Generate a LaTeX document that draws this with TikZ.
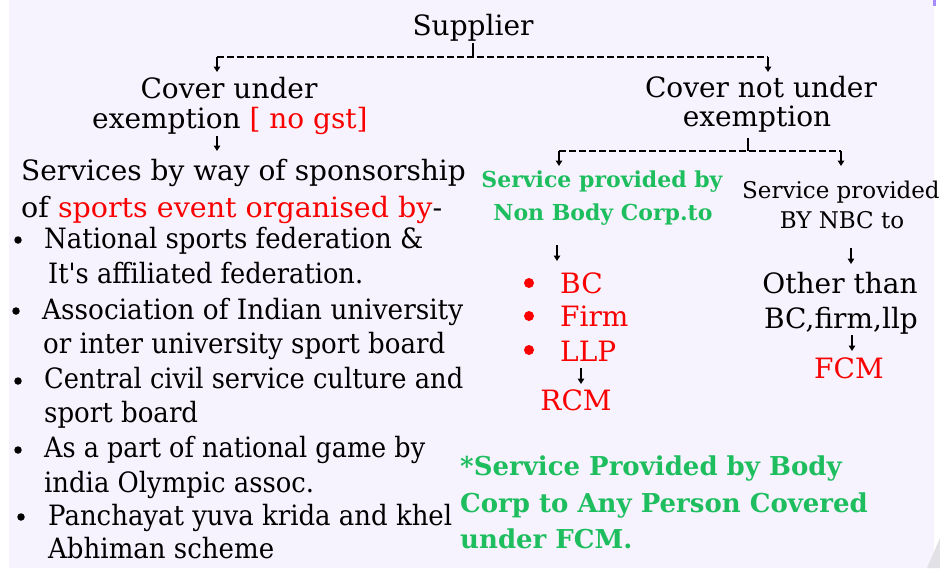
\documentclass[tikz,border=0pt]{standalone}
\usepackage{fontspec}
\usepackage{graphicx}
\setmainfont{DejaVu Serif}
\newfontfamily\plainserif{DejaVu Serif}[Ligatures=ResetAll]
\usetikzlibrary{arrows.meta}
\definecolor{bg}{RGB}{246,243,254}
\definecolor{myred}{RGB}{250,0,0}
\definecolor{mygreen}{RGB}{30,190,95}
\definecolor{edgepurple}{RGB}{167,139,250}
\definecolor{edgegrey}{RGB}{225,225,230}
\newcommand\fitw[2]{\resizebox{#1}{\height}{#2}}
\tikzset{
  txt/.style={anchor=base,inner sep=0pt,font=\fontsize{28}{30}\selectfont},
  txtw/.style={anchor=base west,inner sep=0pt,font=\fontsize{28}{30}\selectfont},
  smalltxt/.style={inner sep=0pt,font=\fontsize{23}{25}\selectfont},
  grn/.style={anchor=base,inner sep=0pt,font=\fontsize{22}{24}\selectfont\bfseries,text=mygreen},
  grnbig/.style={anchor=base west,inner sep=0pt,font=\fontsize{26}{28}\selectfont\bfseries,text=mygreen},
  arr/.style={line width=1.5pt,-{Triangle[length=5.5pt,width=6.5pt]}},
  dashline/.style={line width=1.3pt,dash pattern=on 7pt off 3pt},
  ticklinestyle/.style={line width=1.3pt},
  dotblack/.style={circle,fill=black,inner sep=0pt,minimum size=7.5pt},
  dotred/.style={circle,fill=myred,inner sep=0pt,minimum size=10pt}
}
\begin{document}
\begin{tikzpicture}[x=1pt,y=-1pt]
\useasboundingbox (0,0) rectangle (940,568);
\fill[white] (0,0) rectangle (940,568);
\fill[bg] (9,0) rectangle (934,568);
\fill[edgepurple] (933,0) rectangle (936,6);
\fill[edgegrey] (927,568) -- (940,538) -- (940,568) -- cycle;

% top level
\node[txt] (sup) at (473,35) {Supplier};
\coordinate (t1) at (473,57);
\coordinate (dl) at (217,57);
\coordinate (dr) at (768,57);
\coordinate (dlt) at (217,72);
\coordinate (drt) at (768,72);
\draw[ticklinestyle] (sup.base) ++(0,8) -- (t1);
\draw[dashline] (dl) -- (dr);
\draw[arr] (dl) -- (dlt);
\draw[arr] (dr) -- (drt);

% left branch
\node[txt] (cu1) at (229,98) {Cover under};
\node[txtw] (cu2) at (92,128) {exemption \textcolor{myred}{[ no gst]}};
\coordinate (a1s) at (217,136);
\coordinate (a1e) at (217,151);
\draw[arr] (a1s) -- (a1e);
\node[txtw] (sv1) at (21,180) {Services by way of sponsorship};
\node[txtw] (sv2) at (21,217) {\fitw{421pt}{of \textcolor{myred}{sports event organised by}-}};

\node[dotblack] (b1) at (18,240) {};
\node[txtw] (i1a) at (44,248) {\fitw{379pt}{National sports federation \&}};
\node[txtw] (i1b) at (48,283) {\fitw{315pt}{It{\plainserif\char"27}s affiliated federation.}};
\node[dotblack] (b2) at (16,311) {};
\node[txtw] (i2a) at (42,319) {\fitw{421pt}{Association of Indian university}};
\node[txtw] (i2b) at (43,353) {\fitw{402pt}{or inter university sport board}};
\node[dotblack] (b3) at (18,381) {};
\node[txtw] (i3a) at (44,388) {\fitw{419pt}{Central civil service culture and}};
\node[txtw] (i3b) at (44,422) {\fitw{154pt}{sport board}};
\node[dotblack] (b4) at (18,450) {};
\node[txtw] (i4a) at (44,457) {\fitw{381pt}{As a part of national game by}};
\node[txtw] (i4b) at (44,492) {\fitw{270pt}{india Olympic assoc.}};
\node[dotblack] (b5) at (21,517) {};
\node[txtw] (i5a) at (48,525) {\fitw{404pt}{Panchayat yuva krida and khel}};
\node[txtw] (i5b) at (48,558) {\fitw{226pt}{Abhiman scheme}};

% right branch
\node[txt] (cn1) at (761,97) {Cover not under};
\node[txt] (cn2) at (757,126) {exemption};
\coordinate (t2) at (748,151);
\coordinate (dl2) at (559,151);
\coordinate (dr2) at (841,151);
\coordinate (dl2t) at (559,166);
\coordinate (dr2t) at (841,166);
\draw[ticklinestyle] (cn2.base) ++(-9,12) -- (t2);
\draw[dashline] (dl2) -- (dr2);
\draw[arr] (dl2) -- (dl2t);
\draw[arr] (dr2) -- (dr2t);

\node[grn] (g1) at (602,187) {Service provided by};
\node[grn] (g2) at (603,220) {Non Body Corp.to};
\node[smalltxt,anchor=base west] (n1) at (742,198) {Service provided};
\node[smalltxt,anchor=base] (n2) at (842,228) {BY NBC to};

\coordinate (a2s) at (557,245);
\coordinate (a2e) at (557,261);
\draw[arr] (a2s) -- (a2e);
\node[dotred] (r1) at (529,283) {};
\node[dotred] (r2) at (529,316) {};
\node[dotred] (r3) at (529,350) {};
\node[txtw,text=myred] (bc) at (560,293) {BC};
\node[txtw,text=myred] (firm) at (560,326) {Firm};
\node[txtw,text=myred] (llp) at (560,361) {LLP};
\coordinate (a3s) at (581,368);
\coordinate (a3e) at (581,384);
\draw[arr] (a3s) -- (a3e);
\node[txt,text=myred] (rcm) at (576,410) {RCM};

\coordinate (a4s) at (851,248);
\coordinate (a4e) at (851,264);
\draw[arr] (a4s) -- (a4e);
\node[txt] (ot1) at (840,293) {Other than};
\node[txt] (ot2) at (841,328) {BC,firm,llp};
\coordinate (a5s) at (852,335);
\coordinate (a5e) at (852,351);
\draw[arr] (a5s) -- (a5e);
\node[txt,text=myred] (fcm) at (849,378) {FCM};

% bottom note
\node[grnbig] (nt1) at (460,475) {*Service Provided by Body};
\node[grnbig] (nt2) at (460,512) {Corp to Any Person Covered};
\node[grnbig] (nt3) at (460,548) {under FCM.};
\end{tikzpicture}
\end{document}
